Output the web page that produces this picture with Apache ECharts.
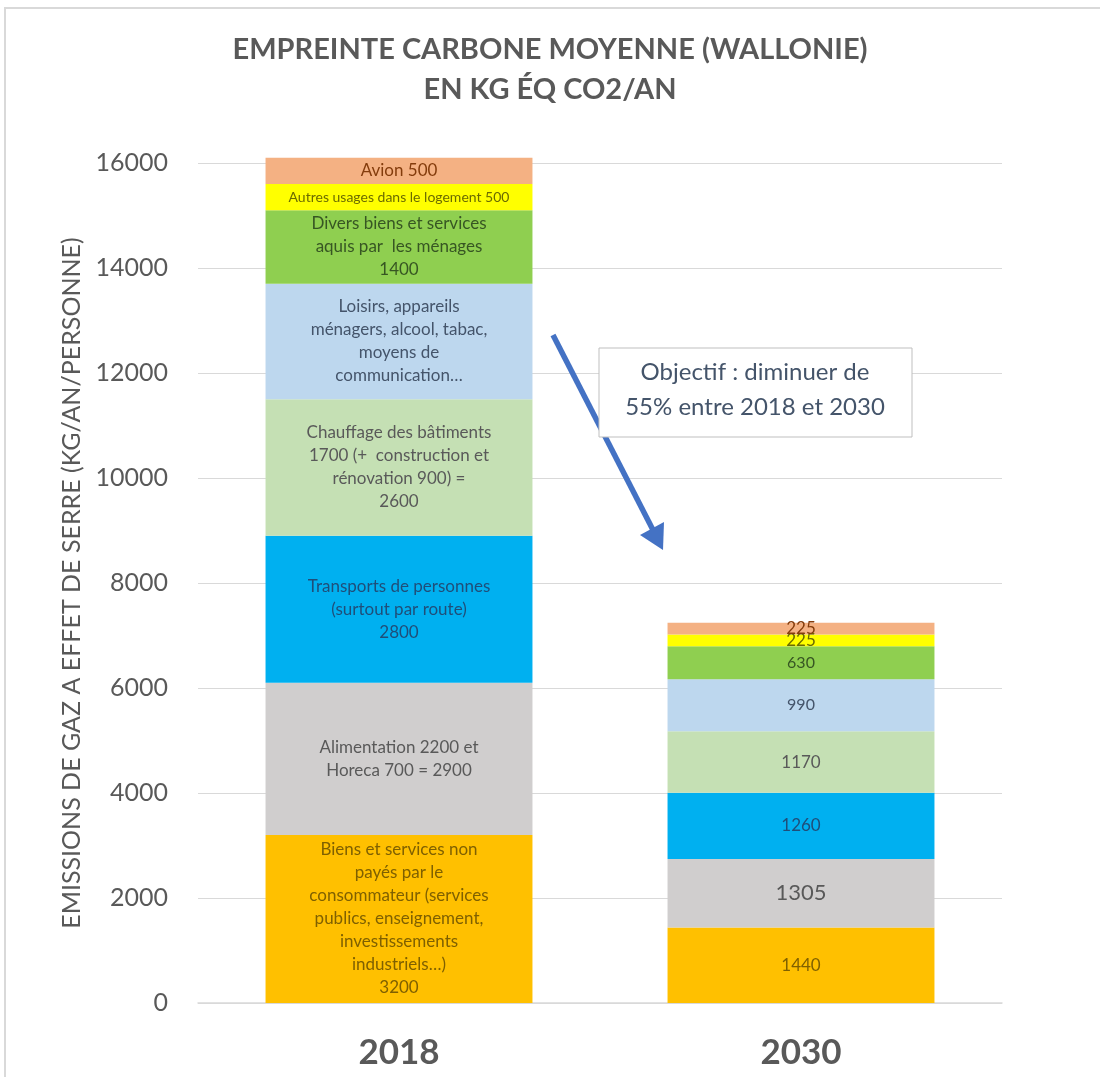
<!DOCTYPE html>
<html>
<head>
<meta charset="utf-8">
<script src="https://cdn.jsdelivr.net/npm/echarts@6/dist/echarts.min.js"></script>
<style>
  html, body { margin: 0; padding: 0; background: #fff; }
  #chart { width: 1100px; height: 1077px; }
</style>
</head>
<body>
<div id="chart"></div>
<script>
const years = ['2018', '2030'];
const segments = ['Biens et services non payés', 'Alimentation et Horeca', 'Transports de personnes',
  'Chauffage des bâtiments', 'Loisirs', 'Divers biens et services', 'Autres usages dans le logement', 'Avion'];
const values2018 = [3200, 2900, 2800, 2600, 2200, 1400, 500, 500];
const values2030 = [1440, 1305, 1260, 1170, 990, 630, 225, 225];
const labels2018 = [
  'Biens et services non\npayés par le\nconsommateur (services\npublics, enseignement,\ninvestissements\nindustriels…)\n3200',
  'Alimentation 2200 et\nHoreca 700 = 2900',
  'Transports de personnes\n(surtout par route)\n2800',
  'Chauffage des bâtiments\n1700 (+  construction et\nrénovation 900) =\n2600',
  'Loisirs, appareils\nménagers, alcool, tabac,\nmoyens de\ncommunication…',
  'Divers biens et services\naquis par  les ménages\n1400',
  'Autres usages dans le logement 500',
  'Avion 500'
];
const yTicks = [0, 2000, 4000, 6000, 8000, 10000, 12000, 14000, 16000];

const colors = ['#FFC000', '#D0CECE', '#00B0F0', '#C5E0B4', '#BDD7EE', '#8FCF50', '#FFFF00', '#F4B183'];
const textColors = ['#7F6000', '#595959', '#1F4E79', '#595959', '#44546A', '#375623', '#6B6B00', '#843C0C'];
const size2018 = [17, 17, 17, 17, 17, 17, 14, 17];
const size2030 = [17, 22, 17, 17, 16, 16, 17, 17];

const font = 'Lato, "Open Sans", sans-serif';

const chart = echarts.init(document.getElementById('chart'));

const series = segments.map((name, i) => ({
  name,
  type: 'bar',
  stack: 'total',
  barWidth: '66.4%',
  clip: false,
  itemStyle: { color: colors[i] },
  label: {
    show: true,
    position: 'inside',
    fontFamily: font,
    color: textColors[i],
    lineHeight: 23,
  },
  data: [
    { value: values2018[i], label: { formatter: labels2018[i], fontSize: size2018[i] } },
    { value: values2030[i], label: { formatter: String(values2030[i]), fontSize: size2030[i], lineHeight: size2030[i] } },
  ],
}));

const option = {
  backgroundColor: '#fff',
  animation: false,
  title: {
    text: 'EMPREINTE CARBONE MOYENNE (WALLONIE)\nEN KG ÉQ CO2/AN',
    left: 'center',
    top: 25,
    textStyle: { fontFamily: font, fontWeight: 'bold', fontSize: 29, lineHeight: 40, color: '#595959' },
  },
  grid: { left: 198, right: 98, top: 163, bottom: 74 },
  xAxis: {
    type: 'category',
    data: years,
    axisTick: { show: false },
    axisLine: { lineStyle: { color: '#D9D9D9', width: 1.5 } },
    axisLabel: { fontFamily: font, fontWeight: 'bold', fontSize: 35, color: '#595959', margin: 32 },
  },
  yAxis: {
    type: 'value',
    min: 0,
    max: yTicks[yTicks.length - 1],
    interval: yTicks[1] - yTicks[0],
    name: 'EMISSIONS DE GAZ A EFFET DE SERRE (KG/AN/PERSONNE)',
    nameLocation: 'middle',
    nameGap: 114,
    nameTextStyle: { fontFamily: font, fontSize: 25, color: '#595959' },
    axisLine: { show: false },
    axisTick: { show: false },
    axisLabel: { fontFamily: font, fontSize: 25, color: '#595959', margin: 30, formatter: (v) => String(v) },
    splitLine: { lineStyle: { color: '#D9D9D9', width: 1 } },
  },
  series,
  graphic: [
    {
      type: 'rect', z: -1, silent: true,
      shape: { x: 5, y: 8, width: 1200, height: 1200 },
      style: { fill: 'none', stroke: '#D9D9D9', lineWidth: 2 },
    },
    {
      type: 'line', z: 50, silent: true,
      shape: { x1: 553, y1: 335, x2: 653, y2: 530 },
      style: { stroke: '#4472C4', lineWidth: 5.5 },
    },
    {
      type: 'polygon', z: 50, silent: true,
      shape: { points: [[663, 550], [640, 535], [664, 522]] },
      style: { fill: '#4472C4' },
    },
    {
      type: 'rect', z: 60, silent: true,
      shape: { x: 599, y: 348, width: 313, height: 89 },
      style: { fill: '#fff', stroke: '#BFBFBF', lineWidth: 1 },
    },
    {
      type: 'text', z: 61, silent: true,
      x: 755, y: 390,
      style: {
        text: 'Objectif : diminuer de\n55% entre 2018 et 2030',
        fontFamily: font, fontSize: 24, lineHeight: 35,
        fill: '#44546A', align: 'center', verticalAlign: 'middle',
      },
    },
  ],
};

chart.setOption(option);
</script>
</body>
</html>
